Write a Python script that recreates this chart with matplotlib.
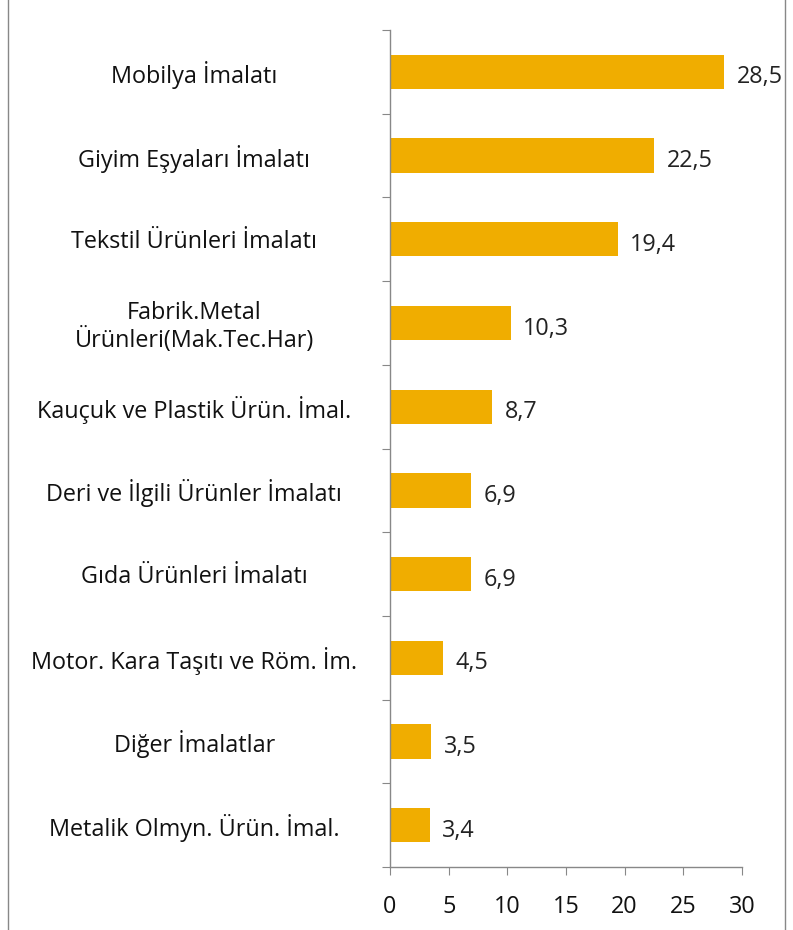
import matplotlib.pyplot as plt
import numpy as np
from matplotlib.lines import Line2D

# sector labels (top to bottom) and their shares
sectors = ['Mobilya İmalatı', 'Giyim Eşyaları İmalatı', 'Tekstil Ürünleri İmalatı',
           'Fabrik.Metal\nÜrünleri(Mak.Tec.Har)', 'Kauçuk ve Plastik Ürün. İmal.',
           'Deri ve İlgili Ürünler İmalatı', 'Gıda Ürünleri İmalatı',
           'Motor. Kara Taşıtı ve Röm. İm.', 'Diğer İmalatlar',
           'Metalik Olmyn. Ürün. İmal.']
values = [28.5, 22.5, 19.4, 10.3, 8.7, 6.9, 6.9, 4.5, 3.5, 3.4]
xticks = [0, 5, 10, 15, 20, 25, 30]

plt.rcParams['font.family'] = ['Open Sans', 'DejaVu Sans']
fs = 16.8

fig = plt.figure(figsize=(7.93, 9.30), dpi=100)
ax = fig.add_axes([0.4918, 0.0677, 0.4439, 0.9000])

pos = np.arange(len(sectors))
bars = ax.barh(pos, values, height=0.41, color='#F0AD00')

for b, v in zip(bars, values):
    ax.annotate(f'{v:.1f}'.replace('.', ','), (b.get_width(), b.get_y() + b.get_height() / 2),
                xytext=(9, -4), textcoords='offset points', ha='left', va='center',
                fontsize=fs, color='#222222')

ax.set_xlim(0, 30)
ax.set_ylim(len(sectors) - 0.5, -0.5)

# tick marks between categories, labels at category centres
ax.set_yticks(np.arange(len(sectors) + 1) - 0.5)
ax.set_yticklabels([])
ax.set_yticks(pos, minor=True)
ax.set_yticklabels(sectors, minor=True, ha='center', fontsize=fs, color='#111111',
                   linespacing=1.1)
ax.tick_params(axis='y', which='major', length=6, color='#888888', direction='out')
ax.tick_params(axis='y', which='minor', length=0, pad=141)

ax.set_xticks(xticks)
ax.set_xticklabels([str(t) for t in xticks], fontsize=fs, color='#111111')
ax.tick_params(axis='x', length=6, color='#888888', pad=14)

for s in ['top', 'right']:
    ax.spines[s].set_visible(False)
for s in ['left', 'bottom']:
    ax.spines[s].set_color('#888888')
    ax.spines[s].set_linewidth(1)

# outer frame lines of the original chart box
fig.add_artist(Line2D([0.0101, 0.0101], [0, 1], color='#888888', lw=1, transform=fig.transFigure))
fig.add_artist(Line2D([0.9905, 0.9905], [0, 1], color='#888888', lw=1, transform=fig.transFigure))

fig.savefig('out.png', dpi=100)
